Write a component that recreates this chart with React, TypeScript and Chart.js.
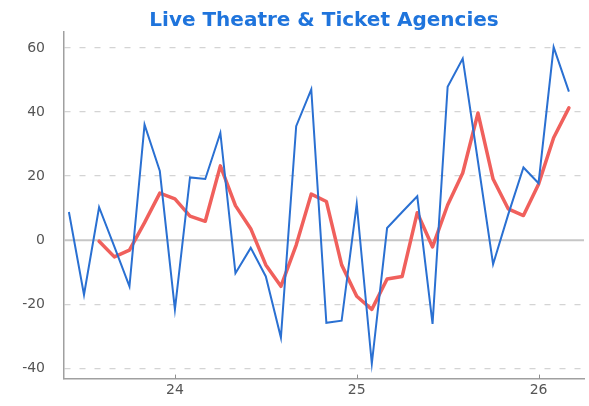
import React, { useEffect, useRef } from 'react';
import { Chart, registerables } from 'chart.js';

Chart.register(...registerables);

const chartTitle = 'Live Theatre & Ticket Agencies';

// time in years (YY + month fraction)
const months = [
  23.417, 23.5, 23.583, 23.667, 23.75, 23.833, 23.917,
  24.0, 24.083, 24.167, 24.25, 24.333, 24.417, 24.5, 24.583, 24.667, 24.75, 24.833, 24.917,
  25.0, 25.083, 25.167, 25.25, 25.333, 25.417, 25.5, 25.583, 25.667, 25.75, 25.833, 25.917,
  26.0, 26.083, 26.167,
];

const monthlyChange = [
  8.8, -17, 10.3, -2, -14.4, 36.1, 21.6,
  -21.6, 19.6, 19.1, 33.5, -10.3, -2.4, -11.3, -30.4, 35.6, 47.1, -25.8, -25.1,
  11.3, -38.5, 3.8, 8.8, 13.7, -26.1, 47.9, 56.7, 24.5, -7.5, 8, 22.7,
  17.8, 60.3, 46.4,
];

const smoothedChange = [
  null, null, -0.3, -5.2, -3.1, 5.5, 14.7,
  12.9, 7.5, 5.9, 23.2, 10.8, 3.6, -7.7, -14.4, -1.5, 14.4, 12.1, -7.7,
  -17.5, -21.6, -12.1, -11.3, 8.6, -2.1, 11, 21, 39.7, 19.1, 9.8, 7.7,
  17.5, 32, 41.3,
];

const xTickValues = [24, 25, 26];
const yTickValues = [-40, -20, 0, 20, 40, 60];

export default function App() {
  const canvasRef = useRef<HTMLCanvasElement>(null);

  useEffect(() => {
    const canvas = canvasRef.current;
    if (!canvas) return;

    const extras = {
      id: 'extras',
      beforeDatasetsDraw(chart: any) {
        const { ctx, chartArea, scales } = chart;
        const y0 = scales.y.getPixelForValue(0);
        ctx.save();
        ctx.strokeStyle = '#c6c6c6';
        ctx.lineWidth = 2;
        ctx.beginPath();
        ctx.moveTo(chartArea.left, y0);
        ctx.lineTo(chartArea.right, y0);
        ctx.stroke();
        ctx.strokeStyle = '#8f8f8f';
        ctx.lineWidth = 1;
        for (const t of xTickValues) {
          const px = Math.round(scales.x.getPixelForValue(t)) + 0.5;
          ctx.beginPath();
          ctx.moveTo(px, chartArea.bottom);
          ctx.lineTo(px, chartArea.bottom - 4);
          ctx.stroke();
        }
        ctx.restore();
      },
      afterDraw(chart: any) {
        const { ctx, chartArea } = chart;
        ctx.save();
        ctx.font = 'bold 20px "DejaVu Sans", sans-serif';
        ctx.fillStyle = '#1f74dc';
        ctx.textAlign = 'center';
        ctx.textBaseline = 'alphabetic';
        ctx.fillText(chartTitle, (chartArea.left + chartArea.right) / 2, 26);
        ctx.restore();
      },
    };

    const chart = new Chart(canvas, {
      type: 'line',
      data: {
        datasets: [
          {
            label: 'Monthly',
            data: months.map((m, i) => ({ x: m, y: monthlyChange[i] })),
            borderColor: '#2a70d2',
            borderWidth: 2,
            pointRadius: 0,
            tension: 0,
            fill: false,
          },
          {
            label: 'Smoothed',
            data: months.map((m, i) => ({ x: m, y: smoothedChange[i] as any })),
            borderColor: '#f0605c',
            borderWidth: 3.5,
            pointRadius: 0,
            tension: 0,
            fill: false,
            borderJoinStyle: 'round',
            borderCapStyle: 'round',
          },
        ],
      },
      options: {
        responsive: false,
        animation: false,
        devicePixelRatio: 1,
        layout: { padding: { top: 32, right: 5, left: 0, bottom: 0 } },
        plugins: {
          legend: { display: false },
          title: { display: false },
          tooltip: { enabled: false },
        },
        scales: {
          x: {
            type: 'linear',
            min: 23.39,
            max: 26.25,
            afterBuildTicks: (scale: any) => {
              scale.ticks = xTickValues.map((v) => ({ value: v }));
            },
            afterFit: (scale: any) => {
              scale.height = 24.3;
            },
            grid: { display: false, drawOnChartArea: false, drawTicks: false },
            border: { display: true, color: '#a0a0a0', width: 1.5 },
            ticks: {
              padding: 3,
              color: '#555555',
              font: { family: '"DejaVu Sans", sans-serif', size: 14 },
              callback: (v: any) => String(v),
            },
          },
          y: {
            type: 'linear',
            min: -43.2,
            max: 65,
            afterBuildTicks: (scale: any) => {
              scale.ticks = yTickValues.map((v) => ({ value: v }));
            },
            afterFit: (scale: any) => {
              scale.width = 64;
            },
            grid: {
              drawTicks: false,
              color: (ctx: any) => (ctx.tick && ctx.tick.value === 0 ? 'rgba(0,0,0,0)' : '#d4d4d4'),
              lineWidth: 1.3,
            },
            border: { display: true, color: '#a0a0a0', width: 1.5, dash: [6, 9] },
            ticks: {
              padding: 19,
              color: '#555555',
              font: { family: '"DejaVu Sans", sans-serif', size: 14 },
              callback: (v: any) => String(v),
            },
          },
        },
      },
      plugins: [extras],
    });

    return () => chart.destroy();
  }, []);

  return (
    <div style={{ position: 'absolute', left: 0, top: 0, width: 589, height: 406 }}>
      <canvas ref={canvasRef} width={589} height={406} style={{ display: 'block' }} />
    </div>
  );
}
